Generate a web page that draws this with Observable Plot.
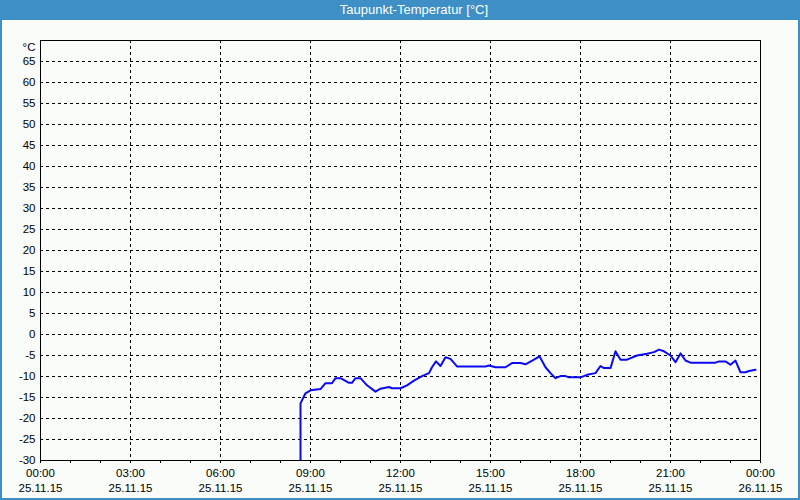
<!DOCTYPE html>
<html><head><meta charset="utf-8">
<script src="https://cdn.jsdelivr.net/npm/d3@7"></script>
<script src="https://cdn.jsdelivr.net/npm/@observablehq/plot@0.6"></script>
<style>
html,body{margin:0;padding:0;background:#fff;}
#win{position:relative;width:800px;height:500px;box-sizing:border-box;background:#fafcfa;border-left:2px solid #3d8fc6;border-right:2px solid #3d8fc6;border-bottom:2px solid #3d8fc6;}
#title{height:20px;background:#3d8fc6;color:#fff;font:13px "Liberation Sans",sans-serif;line-height:20px;margin:0 -2px;padding-left:28px;text-align:center;}
#chart svg{display:block;}
</style>
</head><body>
<div id="win"><div id="title">Taupunkt-Temperatur [°C]</div><div id="chart"></div></div>
<script>
const day = "2015-11-25";
const times = ["08:40","08:40","08:50","09:00","09:20","09:30","09:43","09:50","10:00","10:17","10:23","10:30","10:40","10:53","11:10","11:20","11:37","11:43","12:00","12:13","12:27","12:43","12:57","13:03","13:11","13:20","13:30","13:40","13:53","14:50","14:57","15:10","15:30","15:43","16:00","16:10","16:27","16:38","16:50","17:00","17:10","17:20","17:30","17:37","18:00","18:13","18:30","18:40","18:47","19:00","19:10","19:20","19:33","19:53","20:13","20:27","20:37","20:47","21:00","21:10","21:20","21:30","21:40","22:30","22:37","22:50","23:00","23:10","23:20","23:30","23:37","23:50"];
const dewpoint = [-30,-16.4,-14.0,-13.3,-13.0,-11.6,-11.6,-10.4,-10.4,-11.5,-11.5,-10.4,-10.4,-12.1,-13.6,-12.9,-12.5,-12.8,-12.8,-12.1,-11.0,-9.9,-9.2,-7.8,-6.4,-7.5,-5.4,-5.8,-7.6,-7.6,-7.4,-7.8,-7.8,-6.8,-6.8,-7.1,-6.0,-5.2,-7.8,-9.2,-10.4,-9.9,-9.9,-10.2,-10.2,-9.6,-9.2,-7.5,-8.0,-8.0,-4.0,-6.0,-6.0,-5.0,-4.6,-4.2,-3.6,-4.0,-5.0,-6.6,-4.5,-6.2,-6.7,-6.7,-6.4,-6.4,-7.2,-6.2,-9.0,-9.0,-8.7,-8.4];
const yTicks = [-30,-25,-20,-15,-10,-5,0,5,10,15,20,25,30,35,40,45,50,55,60,65];
const unitLabel = "°C";

const parse = d3.utcParse("%Y-%m-%d %H:%M");
const data = times.map((t,i)=>({t: parse(day+" "+t), v: dewpoint[i]}));
const x0 = parse("2015-11-25 00:00"), x1 = parse("2015-11-26 00:00");

const chart = Plot.plot({
  width: 796, height: 478,
  marginLeft: 38, marginRight: 38, marginTop: 20, marginBottom: 38,
  style: {fontFamily: "'Liberation Sans', sans-serif", fontSize: "11.5px", background: "transparent", color: "#000"},
  x: {type: "utc", domain: [x0, x1]},
  y: {domain: [-30, 70]},
  marks: [
    Plot.gridX({ticks: d3.utcHour.every(3), stroke: "#000", strokeOpacity: 1, strokeDasharray: "3,3", shapeRendering: "crispEdges"}),
    Plot.gridY({ticks: yTicks, stroke: "#000", strokeOpacity: 1, strokeDasharray: "3,3", shapeRendering: "crispEdges"}),
    Plot.axisY({ticks: yTicks, tickSize: 0, tickPadding: 5, tickFormat: d => String(d), label: null}),
    Plot.text([unitLabel], {frameAnchor: "top-left", dx: -5, dy: 2, textAnchor: "end", fontSize: 11.5}),
    Plot.axisX({ticks: d3.utcHour.every(1), tickSize: 3, tickFormat: () => "", label: null, shapeRendering: "crispEdges"}),
    Plot.axisX({ticks: d3.utcHour.every(3), tickSize: 0, tickPadding: 8, tickFormat: d3.utcFormat("%H:%M"), label: null}),
    Plot.axisX({ticks: d3.utcHour.every(3), tickSize: 0, tickPadding: 23, tickFormat: d3.utcFormat("%d.%m.%y"), label: null}),
    Plot.line(data, {x: "t", y: "v", stroke: "#0a0af0", strokeWidth: 2, clip: true}),
    Plot.frame({stroke: "#000", shapeRendering: "crispEdges"})
  ]
});
document.getElementById("chart").appendChild(chart);
</script>
</body></html>
